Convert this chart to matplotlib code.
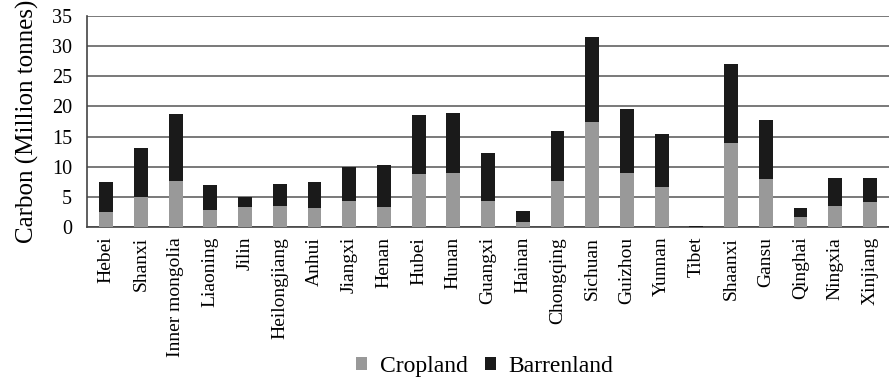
import matplotlib.pyplot as plt
import numpy as np

provinces = ['Hebei', 'Shanxi', 'Inner mongolia', 'Liaoning', 'Jilin', 'Heilongjiang',
             'Anhui', 'Jiangxi', 'Henan', 'Hubei', 'Hunan', 'Guangxi', 'Hainan',
             'Chongqing', 'Sichuan', 'Guizhou', 'Yunnan', 'Tibet', 'Shaanxi', 'Gansu',
             'Qinghai', 'Ningxia', 'Xinjiang']
cropland = [2.5, 5.0, 7.6, 2.9, 3.4, 3.5, 3.1, 4.4, 3.3, 8.8, 9.0, 4.3, 0.8,
            7.6, 17.4, 9.0, 6.6, 0.05, 14.0, 8.0, 1.7, 3.5, 4.2]
totals = [7.5, 13.1, 18.7, 6.9, 5.0, 7.1, 7.4, 10.0, 10.3, 18.6, 18.9, 12.3, 2.7,
          16.0, 31.5, 19.5, 15.4, 0.25, 27.0, 17.8, 3.2, 8.2, 8.1]
barrenland = [t - c for t, c in zip(totals, cropland)]

plt.rcParams['font.family'] = ['Liberation Serif', 'DejaVu Serif']

fig = plt.figure(figsize=(8.89, 3.81), dpi=100)
ax = fig.add_axes([0.098, 0.404, 0.902, 0.554])

x = np.arange(len(provinces))
ax.bar(x, cropland, width=0.4, color='#999999', label='Cropland', zorder=3)
ax.bar(x, barrenland, width=0.4, bottom=cropland, color='#1a1a1a', label='Barrenland', zorder=3)

ax.set_xlim(-0.55, len(provinces) - 0.45)
ax.set_ylim(0, 35)
ax.set_yticks(range(0, 36, 5))
ax.yaxis.grid(True, color='#555555', linewidth=1.1, zorder=0)
ax.set_axisbelow(True)
ax.set_xticks(x)
ax.set_xticklabels(provinces, rotation=90, fontsize=14)
ax.tick_params(axis='both', length=0)
ax.tick_params(axis='x', pad=7)
ax.tick_params(axis='y', labelsize=14.5, pad=11)
ax.set_ylabel('Carbon (Million tonnes)', fontsize=18, labelpad=9)

for side in ['top', 'right']:
    ax.spines[side].set_visible(False)
ax.spines['left'].set_color('#444444')
ax.spines['bottom'].set_color('#444444')
ax.spines['left'].set_linewidth(1.2)
ax.spines['bottom'].set_linewidth(1.2)

fig.legend(loc='center', bbox_to_anchor=(0.545, 0.039), ncol=2, frameon=False,
           fontsize=17, handlelength=0.47, handleheight=0.47, handletextpad=0.55,
           columnspacing=0.72)

fig.savefig('out.png', dpi=100)
